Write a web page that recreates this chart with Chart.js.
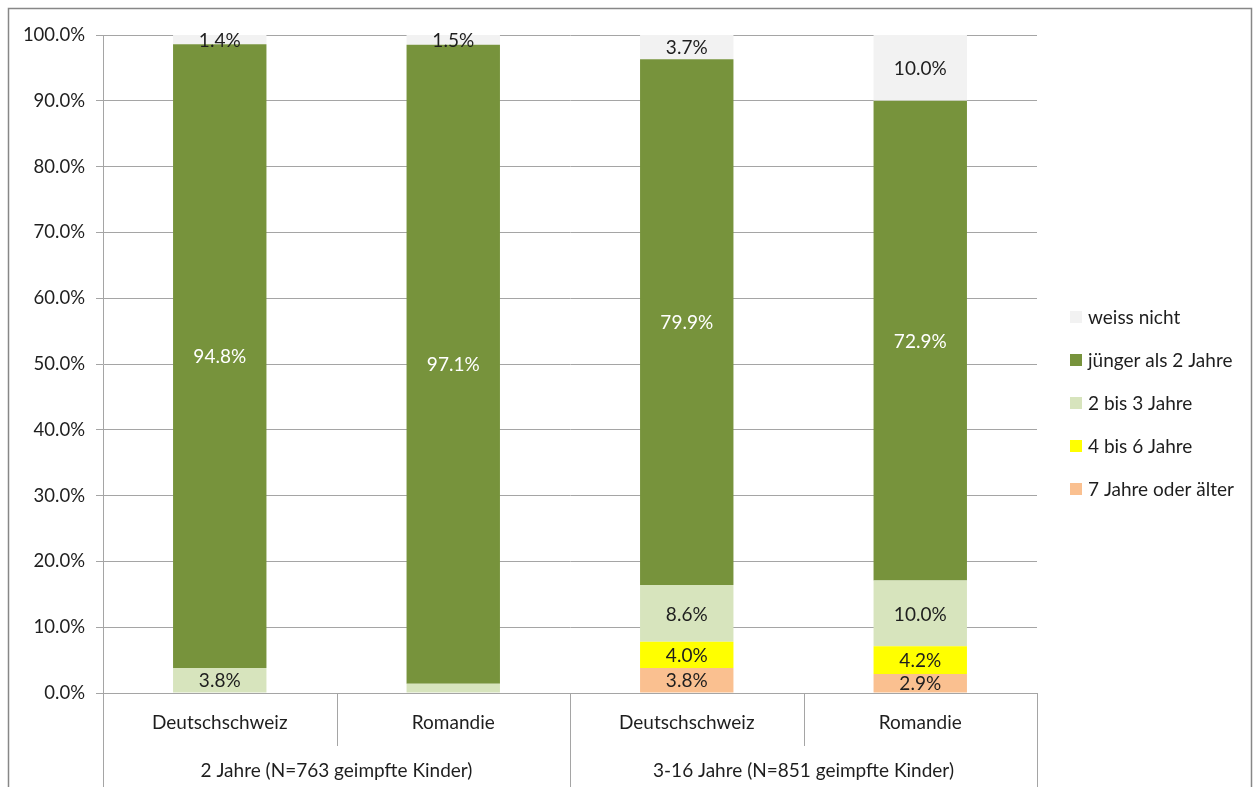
<!DOCTYPE html>
<html>
<head>
<meta charset="utf-8">
<script src="https://cdn.jsdelivr.net/npm/chart.js@4.4.1/dist/chart.umd.min.js"></script>
<style>
  html, body { margin: 0; padding: 0; background: #fff; }
  #wrap { width: 1257px; height: 787px; position: relative; }
</style>
</head>
<body>
<div id="wrap"><canvas id="chart" width="1257" height="787"></canvas></div>
<script>
// categories (two-level x axis)
const regions = ['Deutschschweiz', 'Romandie', 'Deutschschweiz', 'Romandie'];
const groups = ['2 Jahre (N=763 geimpfte Kinder)', '3-16 Jahre (N=851 geimpfte Kinder)'];

// series values in percent, bottom segment first
const ab7 = [0, 0, 3.8, 2.9];
const von4bis6 = [0, 0, 4.0, 4.2];
const von2bis3 = [3.8, 1.4, 8.6, 10.0];
const juenger2 = [94.8, 97.1, 79.9, 72.9];
const weissNicht = [1.4, 1.5, 3.7, 10.0];

// y ticks
const yTicks = [0, 10, 20, 30, 40, 50, 60, 70, 80, 90, 100];

// segments that carry no value label in the original
const hiddenLabels = [[2, 1]];

const FONT = 'Lato, "Open Sans", sans-serif';
const GRID = '#a5a5a5';
const TEXT = '#1e1e1e';

// draws values, the grouped x axis, legend and outer frame
const decorations = {
  id: 'decorations',
  afterDatasetsDraw(chart) {
    const ctx = chart.ctx;
    const area = chart.chartArea;
    const x = chart.scales.x;
    ctx.save();

    // value labels
    ctx.font = '19px ' + FONT;
    ctx.textAlign = 'center';
    ctx.textBaseline = 'middle';
    chart.data.datasets.forEach((ds, di) => {
      const meta = chart.getDatasetMeta(di);
      meta.data.forEach((bar, i) => {
        const v = ds.data[i];
        if (!v) return;
        if (hiddenLabels.some(h => h[0] === di && h[1] === i)) return;
        ctx.fillStyle = ds.labelColor;
        ctx.fillText(v.toFixed(1) + '%', bar.x, (bar.y + bar.base) / 2 + 1);
      });
    });

    // grouped category axis
    const half = (x.getPixelForValue(1) - x.getPixelForValue(0)) / 2;
    ctx.strokeStyle = GRID;
    ctx.lineWidth = 1;
    const vline = (px, y2) => {
      ctx.beginPath();
      ctx.moveTo(Math.round(px) + 0.5, area.bottom);
      ctx.lineTo(Math.round(px) + 0.5, y2);
      ctx.stroke();
    };
    regions.forEach((r, i) => {
      const left = x.getPixelForValue(i) - half;
      vline(left, i % 2 === 0 ? 787 : area.bottom + 53);
    });
    vline(x.getPixelForValue(regions.length - 1) + half, 787);

    ctx.fillStyle = TEXT;
    ctx.font = '19px ' + FONT;
    regions.forEach((r, i) => {
      ctx.fillText(r, x.getPixelForValue(i), area.bottom + 30);
    });
    groups.forEach((g, gi) => {
      const cx = (x.getPixelForValue(gi * 2) + x.getPixelForValue(gi * 2 + 1)) / 2;
      ctx.fillText(g, cx, area.bottom + 78);
    });

    // legend, top item = last dataset
    ctx.textAlign = 'left';
    const items = chart.data.datasets.slice().reverse();
    items.forEach((ds, k) => {
      const cy = 317 + k * 43;
      ctx.fillStyle = ds.backgroundColor;
      ctx.fillRect(1070, cy - 6, 12, 12);
      ctx.fillStyle = TEXT;
      ctx.fillText(ds.label, 1088, cy + 1);
    });

    // outer frame
    ctx.strokeStyle = '#878787';
    ctx.lineWidth = 1.5;
    ctx.strokeRect(8.5, 8.5, 1243, 800);
    ctx.restore();
  }
};

new Chart(document.getElementById('chart'), {
  type: 'bar',
  data: {
    labels: regions,
    datasets: [
      { label: '7 Jahre oder älter', data: ab7, backgroundColor: '#fac090', labelColor: TEXT },
      { label: '4 bis 6 Jahre', data: von4bis6, backgroundColor: '#ffff00', labelColor: TEXT },
      { label: '2 bis 3 Jahre', data: von2bis3, backgroundColor: '#d7e4bd', labelColor: TEXT },
      { label: 'jünger als 2 Jahre', data: juenger2, backgroundColor: '#77933c', labelColor: '#ffffff' },
      { label: 'weiss nicht', data: weissNicht, backgroundColor: '#f2f2f2', labelColor: TEXT }
    ]
  },
  options: {
    responsive: false,
    animation: false,
    events: [],
    layout: { padding: { left: 0, top: 35, right: 220, bottom: 94 } },
    datasets: { bar: { categoryPercentage: 1, barPercentage: 0.4 } },
    plugins: { legend: { display: false }, tooltip: { enabled: false } },
    scales: {
      x: {
        stacked: true,
        grid: { display: false },
        ticks: { display: false },
        border: { color: GRID, width: 1 },
        afterFit(scale) { scale.height = 0; }
      },
      y: {
        stacked: true,
        min: 0,
        max: 100,
        afterBuildTicks(scale) { scale.ticks = yTicks.map(v => ({ value: v })); },
        afterFit(scale) { scale.width = 103; },
        grid: { color: GRID, tickLength: 7 },
        border: { color: GRID, width: 1 },
        ticks: {
          color: TEXT,
          padding: 11,
          font: { family: FONT, size: 18.5 },
          callback: v => v.toFixed(1) + '%'
        }
      }
    }
  },
  plugins: [decorations]
});
</script>
</body>
</html>
